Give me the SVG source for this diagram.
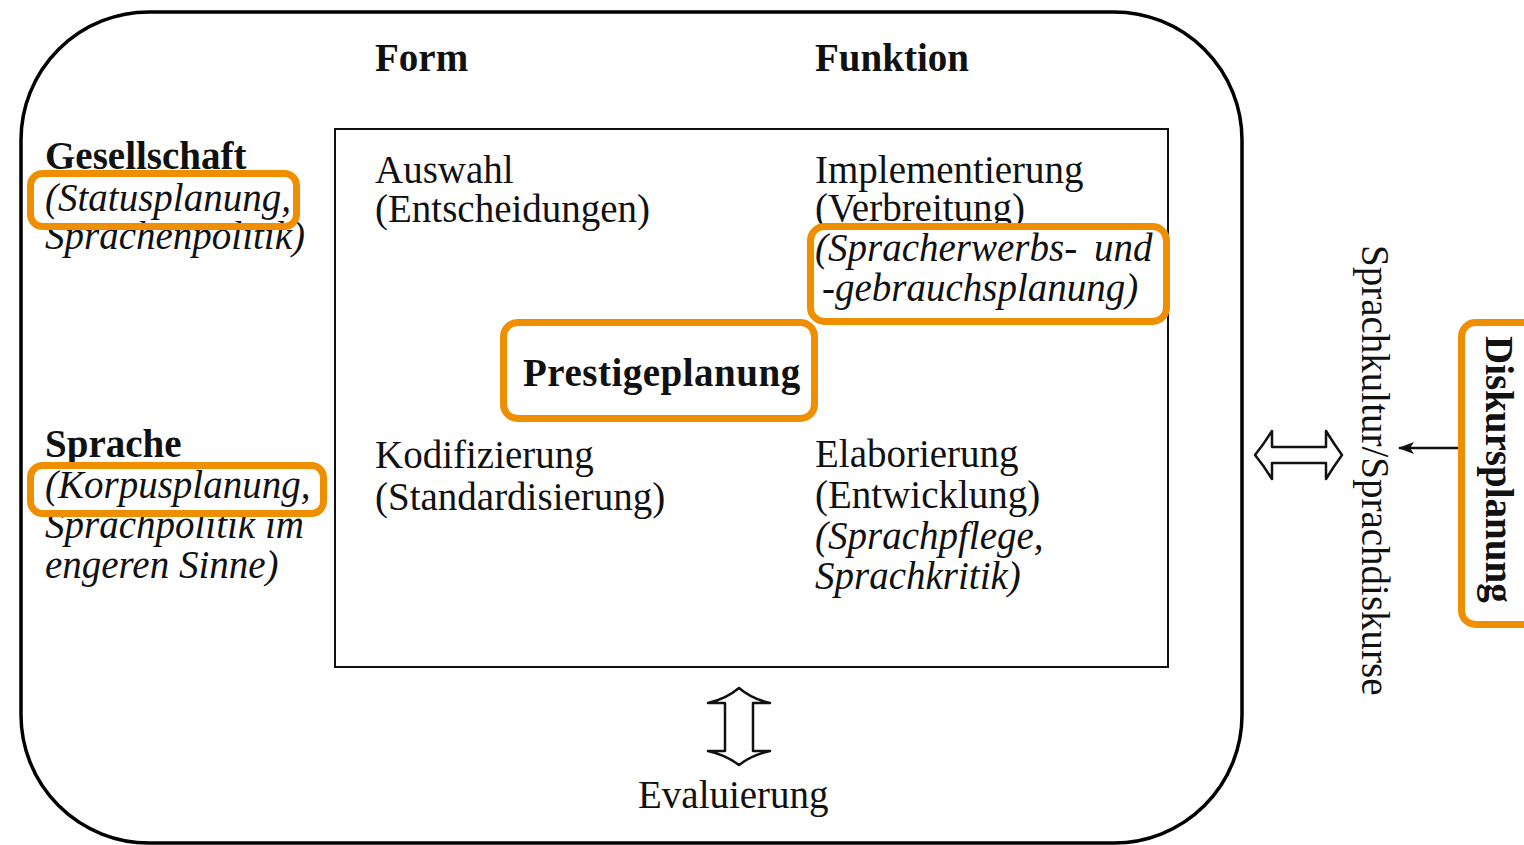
<svg xmlns="http://www.w3.org/2000/svg" width="1524" height="845" viewBox="0 0 1524 845">
<style>
text{font-family:"Liberation Serif","Times New Roman",serif;font-size:39px;fill:#111}
.b{font-weight:bold}
.i{font-style:italic}
.hl{fill:none;stroke:#EF8F00;stroke-width:7}
.frame{fill:none;stroke:#000;stroke-width:3.5}
.box{fill:none;stroke:#111;stroke-width:2}
.dbl{fill:#fff;stroke:#111;stroke-width:2.5;stroke-linejoin:round}
</style>
<defs>
<marker id="ah" markerWidth="16" markerHeight="12" refX="15" refY="6" orient="auto" markerUnits="userSpaceOnUse">
<path d="M0,0 L16,6 L0,12 L4,6 Z" fill="#111"/>
</marker>
</defs>
<rect width="1524" height="845" fill="#fff"/>
<g id="outer-frame"><rect class="frame" x="21" y="12" width="1221" height="831" rx="128" ry="128"/></g>
<g id="inner-box"><rect class="box" x="335" y="129" width="833" height="538"/></g>
<g id="header-form"><text class="b" x="375" y="71">Form</text></g>
<g id="header-funktion"><text class="b" x="815" y="71">Funktion</text></g>
<g id="gesellschaft">
<text class="b" x="45" y="169">Gesellschaft</text>
<text class="i" x="45" y="211">(Statusplanung,</text>
<text class="i" x="45" y="249">Sprachenpolitik)</text>
<rect class="hl" x="30.5" y="173.5" width="266" height="53" rx="12"/>
</g>
<g id="sprache">
<text class="b" x="45" y="457">Sprache</text>
<text class="i" x="45" y="498">(Korpusplanung,</text>
<text class="i" x="45" y="538">Sprachpolitik im</text>
<text class="i" x="45" y="578">engeren Sinne)</text>
<rect class="hl" x="30.5" y="465.5" width="293" height="48" rx="12"/>
</g>
<g id="auswahl">
<text x="375" y="183">Auswahl</text>
<text x="375" y="222">(Entscheidungen)</text>
</g>
<g id="implementierung">
<text x="815" y="183">Implementierung</text>
<text x="815" y="221">(Verbreitung)</text>
<text class="i" x="815" y="261">(Spracherwerbs-</text>
<text class="i" x="1094" y="261">und</text>
<text class="i" x="822" y="301">-gebrauchsplanung)</text>
<rect class="hl" x="810.5" y="226.5" width="356" height="95" rx="14"/>
</g>
<g id="prestigeplanung">
<rect class="hl" x="503.5" y="322.5" width="311" height="96" rx="14"/>
<text class="b" x="523" y="386" letter-spacing="0.5">Prestigeplanung</text>
</g>
<g id="kodifizierung">
<text x="375" y="468">Kodifizierung</text>
<text x="375" y="510">(Standardisierung)</text>
</g>
<g id="elaborierung">
<text x="815" y="467">Elaborierung</text>
<text x="815" y="508">(Entwicklung)</text>
<text class="i" x="815" y="549">(Sprachpflege,</text>
<text class="i" x="815" y="589">Sprachkritik)</text>
</g>
<g id="evaluierung"><text x="638" y="808">Evaluierung</text></g>
<g id="sprachkultur"><text transform="translate(1362,245) rotate(90)" x="0" y="0">Sprachkultur/Sprachdiskurse</text></g>
<g id="diskursplanung">
<rect class="hl" x="1461.5" y="322.5" width="90" height="302" rx="14"/>
<text class="b" transform="translate(1486,336) rotate(90)" x="0" y="0">Diskursplanung</text>
</g>
<g id="connectors">
<path class="dbl" d="M1255,455 Q1264,444 1272,431 L1272,447 L1326,447 L1326,431 Q1334,444 1342,455 Q1334,466 1326,479 L1326,463 L1272,463 L1272,479 Q1264,466 1255,455 Z"/>
<path class="dbl" d="M739,688 Q752,699 770,703 L753,703 L753,751 L770,751 Q752,755 739,765 Q726,755 708,751 L725,751 L725,703 L708,703 Q726,699 739,688 Z"/>
<line x1="1458" y1="448" x2="1399" y2="448" stroke="#111" stroke-width="2.5" marker-end="url(#ah)"/>
</g>
</svg>
